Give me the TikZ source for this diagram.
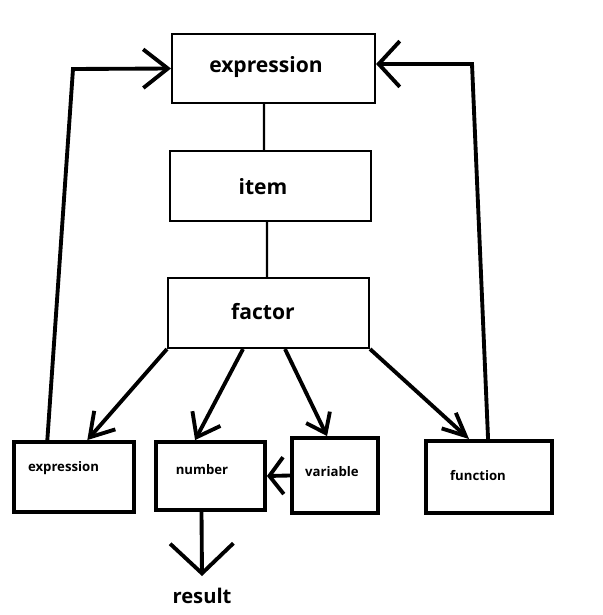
\documentclass[tikz,border=0pt]{standalone}
\usepackage{fontspec}
\setmainfont{Open Sans}
\usetikzlibrary{arrows.meta,positioning}

\begin{document}
\begin{tikzpicture}[x=0.02cm, y=-0.02cm,
    bigbox/.style={draw, line width=1.2pt, inner sep=0pt},
    smallbox/.style={draw, line width=2.2pt, inner sep=0pt},
    bigtext/.style={font=\bfseries\fontsize{12}{14}\selectfont},
    smalltext/.style={font=\bfseries\fontsize{7.5}{9}\selectfont},
    link/.style={line width=1.2pt},
    barb/.style 2 args={line width=2.2pt, -{Straight Barb[length=#1, width=#2]}}]
    \useasboundingbox (0, 0) rectangle (602, 615);
    % upper chain
    \node[bigbox, minimum width=4.06cm, minimum height=1.38cm] (expr) at (273.5, 68.5) {};
    \node[bigtext] (exprtxt) at (266, 67) {expression};
    \node[bigbox, minimum width=4.02cm, minimum height=1.4cm] (item) at (270.5, 186) {};
    \node[bigtext] (itemtxt) at (263, 187) {item};
    \node[bigbox, minimum width=4.02cm, minimum height=1.4cm] (factor) at (268.5, 313) {};
    \node[bigtext] (factortxt) at (263, 312) {factor};
    % lower row
    \node[smallbox, minimum width=2.41cm, minimum height=1.4cm] (subexpr) at (74, 477) {};
    \node[smalltext] (subexprtxt) at (63.5, 468) {expression};
    \node[smallbox, minimum width=2.18cm, minimum height=1.36cm] (number) at (210.5, 476) {};
    \node[smalltext] (numbertxt) at (202, 470) {number};
    \node[smallbox, minimum width=1.72cm, minimum height=1.5cm] (variable) at (335, 475.5) {};
    \node[smalltext] (variabletxt) at (332, 472) {variable};
    \node[smallbox, minimum width=2.52cm, minimum height=1.44cm] (function) at (489, 477) {};
    \node[smalltext] (functiontxt) at (478, 476) {function};
    \node[font=\bfseries\fontsize{11.5}{14}\selectfont] (result) at (202, 596) {result};
    \coordinate (lbend) at (73, 69);
    \coordinate (rbend) at (472, 64);
    \draw[link] ([xshift=-0.19cm]expr.south) -- ([xshift=-0.13cm]item.north);
    \draw[link] ([xshift=-0.07cm]item.south) -- ([xshift=-0.03cm]factor.north);
    \draw[barb={13pt}{16pt}] (factor.south west) -- ([xshift=1.51cm]subexpr.north west);
    \draw[barb={12pt}{18pt}] ([xshift=-0.51cm]factor.south) -- ([xshift=0.82cm]number.north west);
    \draw[barb={10pt}{15pt}] ([xshift=0.33cm]factor.south) -- ([xshift=0.74cm]variable.north west);
    \draw[barb={13pt}{12pt}] (factor.south east) -- ([xshift=0.9cm]function.north west);
    \draw[barb={8pt}{21pt}] (variable.west) -- (number.east);
    \draw[barb={17pt}{36pt}] ([xshift=-0.18cm]number.south) -- ([yshift=0.12cm]result.north);
    \draw[barb={14pt}{22pt}] ([xshift=0.71cm]subexpr.north west) -- (lbend) -- (expr.west);
    \draw[barb={12pt}{26pt}] ([xshift=1.28cm]function.north west) -- (rbend) -- ([yshift=0.09cm]expr.east);
\end{tikzpicture}
\end{document}
